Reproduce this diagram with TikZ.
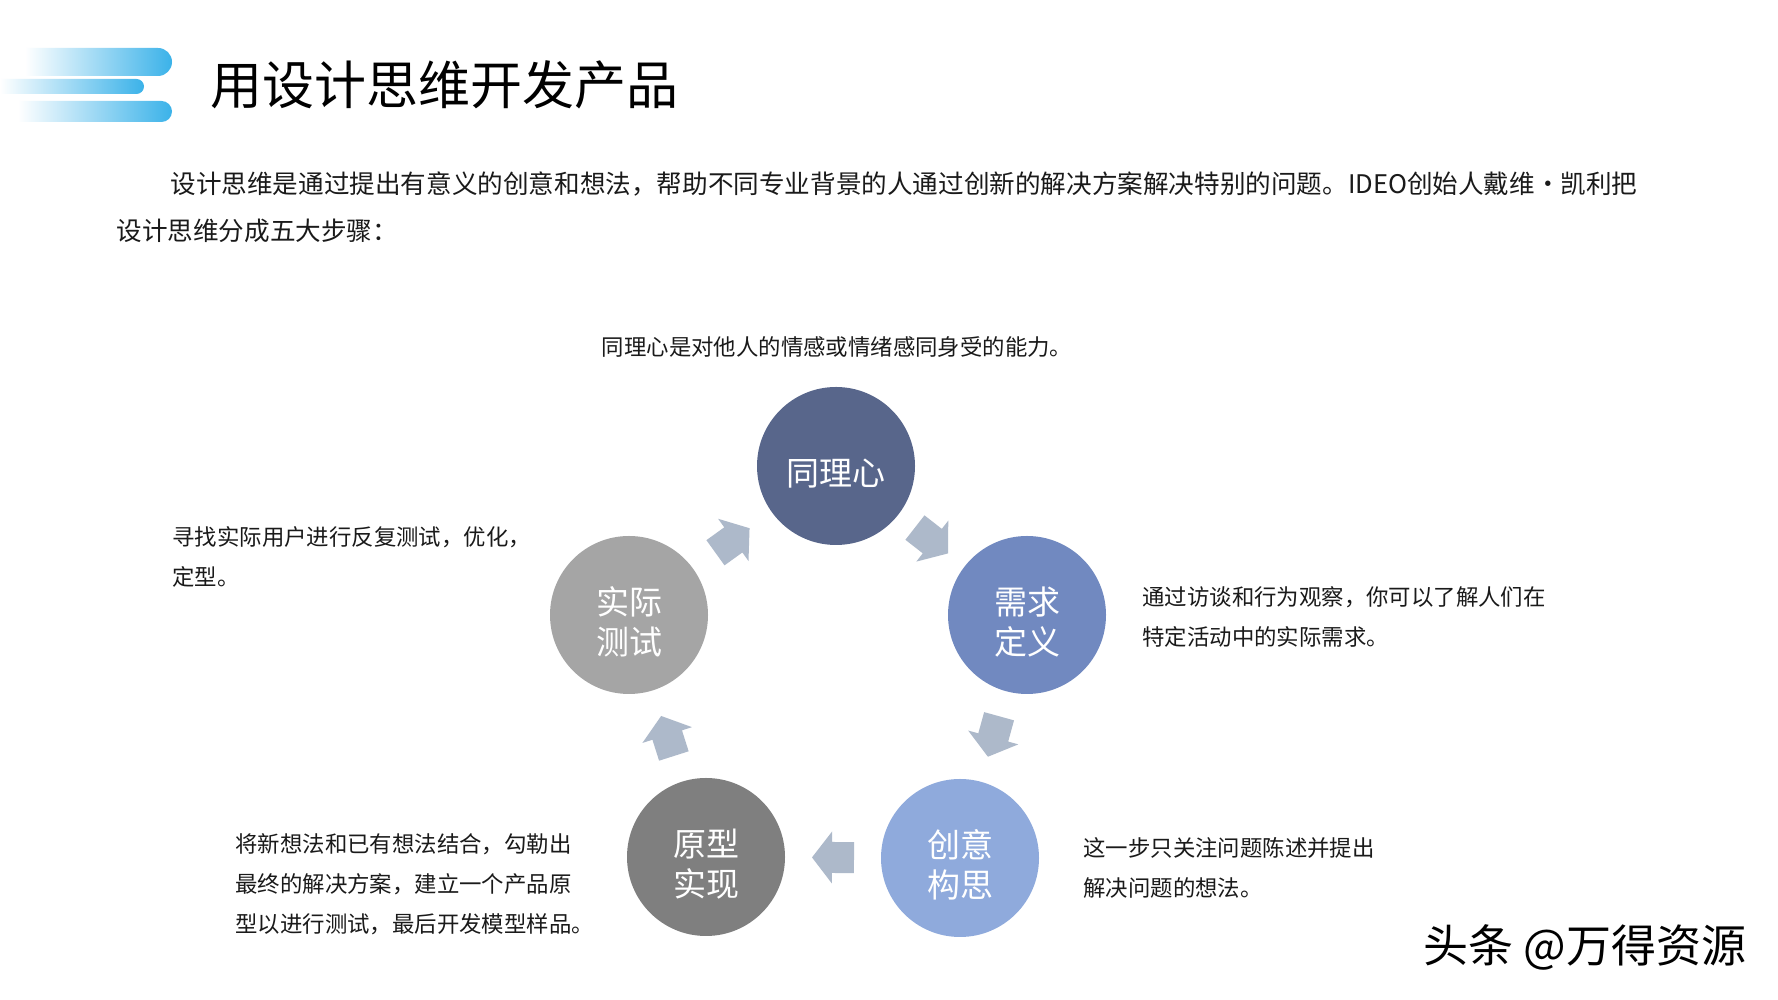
\documentclass[tikz,border=0pt]{standalone}
\usepackage{fontspec}
\setmainfont{Noto Sans CJK SC}
\usetikzlibrary{calc}
\definecolor{cEmp}{HTML}{58668B}
\definecolor{cDef}{HTML}{7189C0}
\definecolor{cIde}{HTML}{8FAADC}
\definecolor{cPro}{HTML}{7F7F7F}
\definecolor{cTst}{HTML}{A5A5A5}
\definecolor{cArr}{HTML}{ADB9CA}
\definecolor{cLogo}{HTML}{3BB2E9}
\definecolor{cTxt}{HTML}{1A1A1A}
\tikzset{
  stepcircle/.style={circle, minimum size=79pt, inner sep=0pt},
  steptext/.style={inner sep=0pt, text=white,
    font=\fontsize{16.5pt}{20pt}\selectfont, align=center},
  desc/.style={anchor=base west, inner sep=0pt, text=cTxt, align=left,
    font=\fontsize{11.2pt}{20pt}\selectfont},
  para/.style={anchor=base west, inner sep=0pt, text=cTxt,
    font=\fontsize{12.8pt}{24pt}\selectfont},
  logobar/.style={left color=white, right color=cLogo},
  barrow/.pic={\fill[cArr] (-21,-15.5) -- (1,-15.5) -- (1,-26) -- (21,0) -- (1,26) -- (1,15.5) -- (-21,15.5) -- cycle;}
}
\begin{document}
\begin{tikzpicture}[x=0.5pt,y=0.5pt]
\useasboundingbox[fill=white] (0,0) rectangle (1778,1000);
% logo bars
\shade[logobar] (25,924) -- (158,924) arc[start angle=-90, end angle=90, radius=14] -- (25,952) -- cycle;
\shade[logobar] (0,906) -- (136.5,906) arc[start angle=-90, end angle=90, radius=7.5] -- (0,921) -- cycle;
\shade[logobar] (18,878) -- (161.5,878) arc[start angle=-90, end angle=90, radius=10.5] -- (18,899) -- cycle;
% title
\node[anchor=base west, inner sep=0pt, text=black, font=\fontsize{26pt}{30pt}\selectfont] (title) at (210,895) {用设计思维开发产品};
% paragraph
\node[para] (p1) at (170,806) {设计思维是通过提出有意义的创意和想法，帮助不同专业背景的人通过创新的解决方案解决特别的问题。IDEO创始人戴维·凯利把};
\node[para] (p2) at (116,759) {设计思维分成五大步骤：};
% circles
\node[stepcircle, fill=cEmp] (emp) at (836,534) {};
\node[stepcircle, fill=cDef] (def) at (1027,385) {};
\node[stepcircle, fill=cIde] (ide) at (960,142) {};
\node[stepcircle, fill=cPro] (pro) at (706,143) {};
\node[stepcircle, fill=cTst] (tst) at (629,385) {};
\node[steptext] (empT) at ($(emp)+(0,-8)$) {同理心};
\node[steptext] (defT) at ($(def)+(0,-7)$) {需求\\定义};
\node[steptext] (ideT) at ($(ide)+(0,-7)$) {创意\\构思};
\node[steptext] (proT) at ($(pro)+(0,-7)$) {原型\\实现};
\node[steptext] (tstT) at ($(tst)+(0,-7)$) {实际\\测试};
% block arrows
\foreach \a/\b in {emp/def, def/ide, ide/pro, pro/tst, tst/emp}{
  \path let \p1=($(\b)-(\a)$), \n1={atan2(\y1,\x1)} in ($(\a)!0.5!(\b)$) pic[rotate=\n1]{barrow};
}
% descriptions (anchor = baseline of last line)
\node[desc, anchor=base] (dEmp) at (837,644) {同理心是对他人的情感或情绪感同身受的能力。};
\node[desc] (dTst) at (172,414) {寻找实际用户进行反复测试，优化，\\定型。};
\node[desc] (dDef) at (1142,354) {通过访谈和行为观察，你可以了解人们在\\特定活动中的实际需求。};
\node[desc] (dIde) at (1083,103) {这一步只关注问题陈述并提出\\解决问题的想法。};
\node[desc] (dPro) at (235,67) {将新想法和已有想法结合，勾勒出\\最终的解决方案，建立一个产品原\\型以进行测试，最后开发模型样品。};
% watermark
\node[anchor=base west, inner sep=0pt, text=black, font=\fontsize{22.5pt}{26pt}\selectfont] (wm) at (1423,37) {头条 @万得资源};
\end{tikzpicture}
\end{document}
